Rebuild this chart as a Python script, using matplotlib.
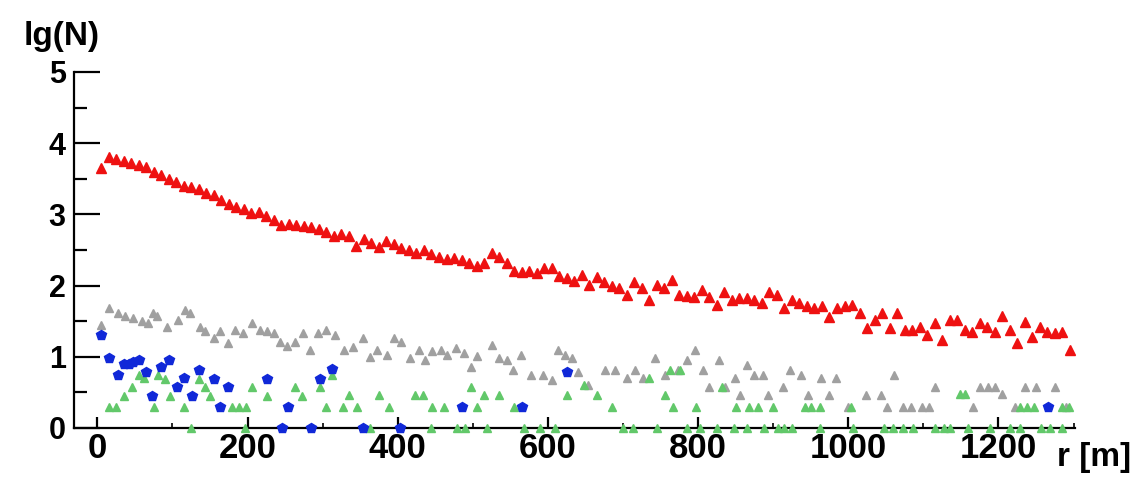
import numpy as np
import matplotlib
matplotlib.use("Agg")
import matplotlib.pyplot as plt
from matplotlib.ticker import MultipleLocator

plt.rcParams['font.family'] = ['Liberation Sans', 'DejaVu Sans']
plt.rcParams['font.weight'] = 'bold'

# ---- data ----
red_r = np.arange(5, 1300, 10)
red_v = [3.65, 3.80, 3.78, 3.75, 3.72, 3.70, 3.66, 3.60, 3.55, 3.50,
         3.45, 3.40, 3.38, 3.35, 3.30, 3.27, 3.20, 3.15, 3.10, 3.08,
         3.02, 3.03, 2.98, 2.92, 2.85, 2.87, 2.85, 2.83, 2.82, 2.80,
         2.75, 2.70, 2.72, 2.70, 2.55, 2.65, 2.60, 2.54, 2.62, 2.58,
         2.53, 2.50, 2.46, 2.50, 2.45, 2.40, 2.37, 2.39, 2.36, 2.32,
         2.27, 2.32, 2.46, 2.40, 2.32, 2.20, 2.19, 2.20, 2.18, 2.25,
         2.25, 2.14, 2.10, 2.06, 2.15, 2.01, 2.12, 2.05, 2.00, 1.97,
         1.87, 2.05, 1.96, 1.80, 2.01, 1.96, 2.08, 1.87, 1.86, 1.84,
         1.94, 1.84, 1.73, 1.91, 1.80, 1.83, 1.82, 1.80, 1.76, 1.91,
         1.87, 1.69, 1.80, 1.76, 1.72, 1.69, 1.72, 1.56, 1.69, 1.72,
         1.73, 1.61, 1.40, 1.52, 1.61, 1.40, 1.61, 1.38, 1.38, 1.42,
         1.31, 1.48, 1.24, 1.52, 1.52, 1.38, 1.35, 1.47, 1.42, 1.35,
         1.57, 1.38, 1.19, 1.49, 1.28, 1.42, 1.35, 1.33, 1.35, 1.10]

gray_r = [5, 15, 27, 37, 48, 60, 67, 74, 80, 93, 107, 117, 124, 137, 144, 155,
          164, 174, 183, 194, 206, 217, 226, 235, 243, 252, 263, 274, 283, 294,
          305, 316, 328, 341, 354, 363, 372, 386, 395, 405, 417, 428, 437, 446,
          457, 466, 477, 488, 497, 506, 526, 535, 546, 554, 564, 577, 594, 606,
          614, 623, 632, 640, 653, 676, 690, 705, 716, 727, 743, 756, 773, 785,
          796, 806, 814, 828, 836, 849, 856, 865, 875, 886, 893, 913, 922, 937,
          946, 964, 975, 983, 1000, 1024, 1044, 1052, 1061, 1073, 1084, 1098,
          1108, 1116, 1166, 1176, 1186, 1196, 1205, 1222, 1235, 1250, 1275, 1290]
gray_v = [1.45, 1.69, 1.61, 1.57, 1.54, 1.50, 1.48, 1.61, 1.57, 1.42, 1.52, 1.66,
          1.61, 1.42, 1.36, 1.26, 1.36, 1.19, 1.38, 1.33, 1.47, 1.38, 1.36, 1.33,
          1.21, 1.15, 1.21, 1.33, 1.10, 1.33, 1.38, 1.30, 1.10, 1.14, 1.26, 1.00,
          1.10, 1.03, 1.26, 1.21, 0.98, 1.10, 0.96, 1.08, 1.10, 1.03, 1.12, 1.05,
          0.86, 1.01, 1.17, 0.98, 0.96, 0.81, 1.03, 0.74, 0.74, 0.67, 1.10, 1.03,
          0.98, 0.79, 0.60, 0.81, 0.81, 0.70, 0.82, 0.70, 0.98, 0.75, 0.82, 0.96,
          1.10, 0.82, 0.58, 0.96, 0.58, 0.70, 0.46, 0.88, 0.75, 0.75, 0.46, 0.58,
          0.82, 0.75, 0.46, 0.70, 0.46, 0.70, 0.30, 0.46, 0.46, 0.30, 0.75, 0.30,
          0.30, 0.30, 0.30, 0.58, 0.30, 0.58, 0.58, 0.58, 0.48, 0.30, 0.58, 0.58,
          0.58, 0.30]

blue_r = [5, 16, 27, 35, 42, 48, 55, 65, 73, 85, 95, 106, 116, 126, 136, 155,
          164, 174, 226, 246, 254, 285, 297, 313, 354, 403, 486, 566, 626, 1266]
blue_v = [1.30, 0.98, 0.74, 0.90, 0.90, 0.93, 0.96, 0.78, 0.45, 0.85, 0.96, 0.58,
          0.70, 0.45, 0.81, 0.69, 0.30, 0.58, 0.69, 0.00, 0.30, 0.00, 0.69, 0.83,
          0.00, 0.00, 0.30, 0.30, 0.78, 0.30]

green_r = [15, 25, 36, 46, 55, 62, 75, 81, 90, 97, 116, 125, 136, 143, 150, 180,
           189, 198, 196, 206, 226, 263, 273, 297, 305, 313, 327, 335, 346, 363,
           375, 388, 423, 434, 446, 444, 462, 479, 490, 497, 506, 515, 519, 535,
           555, 568, 590, 610, 626, 648, 665, 685, 700, 713, 734, 745, 756, 763,
           766, 776, 785, 797, 803, 825, 832, 848, 850, 865, 868, 880, 888, 900,
           906, 914, 925, 942, 951, 962, 962, 1003, 1006, 1047, 1060, 1073, 1086,
           1116, 1127, 1136, 1149, 1155, 1160, 1189, 1216, 1229, 1229, 1238, 1247,
           1256, 1269, 1285, 1285, 1294]
green_v = [0.30, 0.30, 0.45, 0.58, 0.74, 0.70, 0.30, 0.74, 0.69, 0.45, 0.30, 0.00,
           0.69, 0.58, 0.45, 0.30, 0.30, 0.30, 0.00, 0.58, 0.45, 0.58, 0.45, 0.58,
           0.30, 0.74, 0.30, 0.46, 0.30, 0.00, 0.46, 0.30, 0.46, 0.46, 0.30, 0.00,
           0.30, 0.00, 0.00, 0.58, 0.30, 0.46, 0.00, 0.46, 0.30, 0.00, 0.00, 0.00,
           0.46, 0.60, 0.46, 0.30, 0.00, 0.00, 0.70, 0.00, 0.46, 0.82, 0.30, 0.82,
           0.00, 0.30, 0.00, 0.00, 0.58, 0.00, 0.30, 0.00, 0.30, 0.30, 0.00, 0.30,
           0.00, 0.00, 0.00, 0.30, 0.30, 0.30, 0.00, 0.30, 0.00, 0.00, 0.00, 0.00,
           0.00, 0.00, 0.00, 0.00, 0.48, 0.48, 0.00, 0.00, 0.00, 0.00, 0.30, 0.30,
           0.30, 0.00, 0.00, 0.00, 0.30, 0.30]

x_ticks = [0, 200, 400, 600, 800, 1000, 1200]
y_ticks = [0, 1, 2, 3, 4, 5]

# ---- figure ----
fig = plt.figure(figsize=(11.41, 4.83), dpi=100)
ax = fig.add_axes([0.0649, 0.1139, 0.8773, 0.7371])

ax.plot(gray_r, gray_v, ls='none', marker='^', ms=6, color='#a0a0a0',
        mec='#a0a0a0', clip_on=False, zorder=3)
ax.plot(green_r, green_v, ls='none', marker='^', ms=6, color='#62c86a',
        mec='#62c86a', clip_on=False, zorder=4)
ax.plot(blue_r, blue_v, ls='none', marker='p', ms=7.5, color='#1028d8',
        mec='#1028d8', clip_on=False, zorder=5)
ax.plot(red_r, red_v, ls='none', marker='^', ms=7, color='#ee1111',
        mec='#ee1111', clip_on=False, zorder=6)

ax.set_xlim(-31, 1302)
ax.set_ylim(0, 5)
ax.set_xticks(x_ticks)
ax.set_yticks(y_ticks)
ax.xaxis.set_minor_locator(MultipleLocator(100))
ax.yaxis.set_minor_locator(MultipleLocator(0.5))

for s in ['top', 'right']:
    ax.spines[s].set_visible(False)
for s in ['left', 'bottom']:
    ax.spines[s].set_linewidth(1.6)
    ax.spines[s].set_zorder(2)

ax.tick_params(axis='y', which='major', direction='in', length=19, width=1.6,
               labelsize=22, pad=6)
ax.tick_params(axis='y', which='minor', direction='in', length=9.5, width=1.6)
ax.tick_params(axis='x', which='major', direction='in', length=8, width=1.6,
               labelsize=25, pad=3)
ax.tick_params(axis='x', which='minor', direction='in', length=3.5, width=1.2)
for lab in ax.get_xticklabels() + ax.get_yticklabels():
    lab.set_fontweight('bold')

fig.text(0.054, 0.925, 'lg(N)', fontsize=24, fontweight='bold',
         ha='center', va='center')
fig.text(0.959, 0.052, 'r [m]', fontsize=24, fontweight='bold',
         ha='center', va='center')

fig.savefig('out.png', dpi=100)
